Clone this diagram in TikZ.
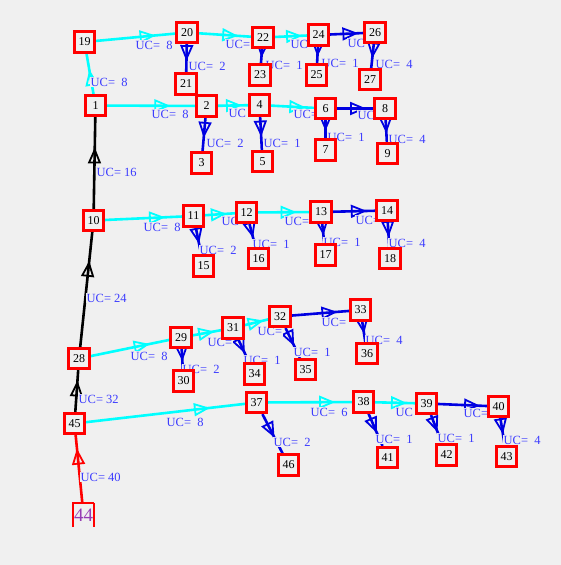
\documentclass[tikz,border=0pt]{standalone}
\usepackage{fontspec}
\setmainfont{Liberation Serif}
\usetikzlibrary{arrows.meta,decorations.markings}
\definecolor{bggray}{RGB}{240,240,240}
\definecolor{ucblue}{RGB}{60,60,255}
\definecolor{linkblue}{RGB}{0,0,225}
\definecolor{linkcyan}{RGB}{0,255,255}
\definecolor{rootpurple}{RGB}{150,60,180}
\pgfdeclarelayer{bglayer}
\pgfdeclarelayer{edgelayer}
\pgfdeclarelayer{lablayer}
\pgfsetlayers{bglayer,edgelayer,lablayer,main}
\tikzset{
  tbox/.style={draw=red, line width=2.6pt, fill=bggray, minimum size=20.5pt,
    inner sep=0pt, font=\fontsize{12}{13}\selectfont},
  uclab/.style={text=ucblue, fill=bggray, inner sep=0.5pt, anchor=west,
    font=\fontsize{12.5}{13}\selectfont},
  midtip/.style={postaction={decorate, decoration={markings,
    mark=at position #1 with {\arrow{Triangle[open, length=16pt, width=13pt, line width=1.8pt]}}}}},
}

\begin{document}
\begin{tikzpicture}[x=1pt, y=-1pt]
            \begin{pgfonlayer}{bglayer}
            \fill[bggray] (0,0) rectangle (561,565);
            \end{pgfonlayer}
            \useasboundingbox (0,0) rectangle (561,565);

            % boxes
            \foreach \n/\x/\y in {
            19/84.5/42, 20/187/32.5, 21/186/84, 22/263/37.5, 23/260/75,
            24/318.5/35, 25/316.5/75, 26/375/32.5, 27/370/79.5,
            1/95.5/105.5, 2/206.5/106, 3/201.5/163, 4/259.5/105, 5/262.5/161.5,
            6/325.5/108.5, 7/325.5/150, 8/385/108.5, 9/387.5/153.5,
            10/93.5/220.5, 11/193.5/216, 12/246.5/212.5, 13/321/212, 14/387/210.5,
            15/203.5/266, 16/258.5/258.5, 17/325.5/255, 18/390/258.5,
            28/79/358.5, 29/181/337.5, 30/183.5/381, 31/233/328, 32/280/316.5,
            33/360.5/310, 34/254.5/374, 35/305.5/369.5, 36/367/353.5,
            45/74.5/423.5, 37/256.5/402.5, 38/363.5/402, 39/426.5/403.5,
            40/498.5/406.5, 41/387.5/457.5, 42/446.5/455, 43/506.5/456.5,
            46/288.5/465
            }{\node[tbox] (n\n) at (\x,\y) {\n};}

            % root, open at the bottom
            \node[text=rootpurple, font=\fontsize{19}{20}\selectfont, minimum width=20.5pt,
              minimum height=24pt, inner sep=0pt] (n44) at (83.5,515) {44};
            \draw[red, line width=2.6pt] (n44.south west) -- (n44.north west) -- (n44.north east);
            \draw[red, line width=1.2pt] (n44.north east) -- (n44.south east);

            % links
            \foreach \a/\b/\c/\p/\lx/\ly/\u in {
            44/45/red/0.8/80/477/UC=~40,
            45/28/black/0.75/78/399/UC=~32,
            28/10/black/0.75/86/298/UC=~24,
            10/1/black/0.67/96/172/UC=~16,
            1/19/linkcyan/0.6/90/82/UC=~~8,
            19/20/linkcyan/0.75/135/45/UC=~~8,
            20/21/linkblue/0.6/188/66/UC=~~2,
            20/22/linkcyan/0.75/225/44/UC=,
            22/23/linkblue/0.6/265/65/UC=~~1,
            22/24/linkcyan/0.85/290/44/UC,
            24/25/linkblue/0.6/321/63/UC=~~1,
            24/26/linkblue/0.85/347/43/UC,
            26/27/linkblue/0.6/375/64/UC=~~4,
            1/2/linkcyan/0.72/151/114/UC=~~8,
            2/3/linkblue/0.6/206/143/UC=~~2,
            2/4/linkcyan/0.8/228/113/UC,
            4/5/linkblue/0.6/263/143/UC=~~1,
            4/6/linkcyan/0.8/293/114/UC=,
            6/7/linkblue/0.6/327/137/UC=~~1,
            6/8/linkblue/0.8/357/115/UC,
            8/9/linkblue/0.6/388/139/UC=~~4,
            10/11/linkcyan/0.78/143/227/UC=~~8,
            11/15/linkblue/0.6/199/250/UC=~~2,
            11/12/linkcyan/0.73/221/221/UC,
            12/16/linkblue/0.6/252/244/UC=~~1,
            12/13/linkcyan/0.75/284/221/UC=,
            13/17/linkblue/0.6/323/242/UC=~~1,
            13/14/linkblue/0.8/355/220/UC=,
            14/18/linkblue/0.6/388/243/UC=~~4,
            28/29/linkcyan/0.75/130/356/UC=~~8,
            29/30/linkblue/0.6/182/369/UC=~~2,
            29/31/linkcyan/0.75/207/342/UC=,
            31/34/linkblue/0.6/243/360/UC=~~1,
            31/32/linkcyan/0.8/257/331/UC=,
            32/35/linkblue/0.6/293/352/UC=~~1,
            32/33/linkblue/0.8/321/322/UC=,
            33/36/linkblue/0.6/365/340/UC=~~4,
            45/37/linkcyan/0.78/166/422/UC=~~8,
            37/46/linkblue/0.6/273/442/UC=~~2,
            37/38/linkcyan/0.8/310/412/UC=~~6,
            38/41/linkblue/0.6/375/439/UC=~~1,
            38/39/linkcyan/0.8/395/412/UC,
            39/42/linkblue/0.6/437/438/UC=~~1,
            39/40/linkblue/0.86/463/413/UC=,
            40/43/linkblue/0.6/503/440/UC=~~4
            }{
            \begin{pgfonlayer}{edgelayer}
            \draw[\c, line width=2.6pt, midtip=\p] (n\a) -- (n\b);
            \end{pgfonlayer}
            \begin{pgfonlayer}{lablayer}
            \node[uclab] (uc\b) at (\lx,\ly) {\u};
            \end{pgfonlayer}
            }
        \end{tikzpicture}
\end{document}
